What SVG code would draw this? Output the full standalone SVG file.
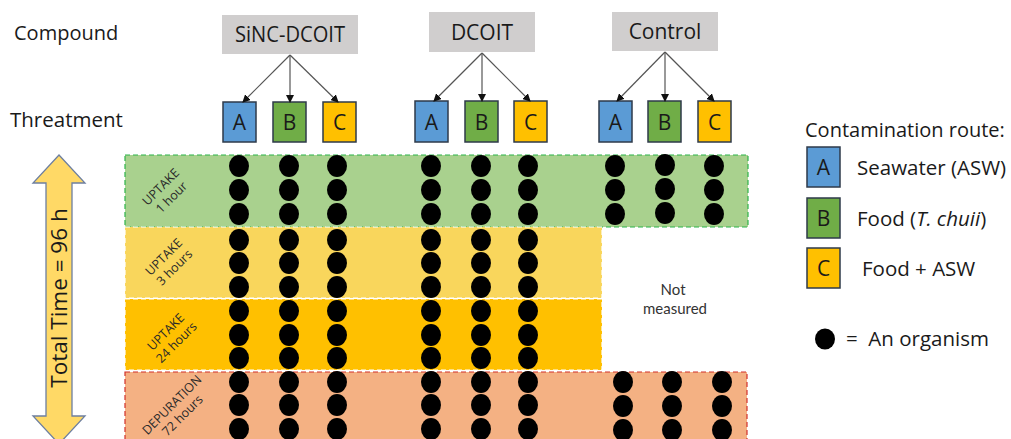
<svg xmlns="http://www.w3.org/2000/svg" width="1011" height="439" viewBox="0 0 1011 439">
  <style>
    .lbl { font-family: "Open Sans", "Liberation Sans", sans-serif; fill: #1a1a1a; }
    .cmp rect { fill: #D0CECE; }
    .cmp text { font-family: "Open Sans", "Liberation Sans", sans-serif; font-size: 21px; fill: #1a1a1a; text-anchor: middle; }
    .sq { stroke: #2E3A4A; stroke-width: 1.5; }
    .sq-a { fill: #5B9BD5; }
    .sq-b { fill: #70AD47; }
    .sq-c { fill: #FFC000; }
    .sqt { font-family: "Open Sans", "Liberation Sans", sans-serif; font-size: 21px; fill: #1a1a1a; text-anchor: middle; }
    .band-lbl { font-family: "Open Sans", "Liberation Sans", sans-serif; font-size: 12.5px; fill: #2a2a2a; text-anchor: middle; }
    .conn line { stroke: #555; stroke-width: 1.2; marker-end: url(#ah); }
    .dot { fill: #000; }
  </style>
  <defs>
    <marker id="ah" markerWidth="8" markerHeight="8" refX="7" refY="4" orient="auto" markerUnits="userSpaceOnUse">
      <path d="M0,0 L8,4 L0,8 Z" fill="#111"/>
    </marker>
    <ellipse id="d" rx="10" ry="11" class="dot"/>
  </defs>

  <rect width="1011" height="439" fill="#fff"/>

  <!-- row labels -->
  <text class="lbl" x="14" y="40" font-size="20">Compound</text>
  <text class="lbl" x="10" y="127" font-size="20.5">Threatment</text>

  <!-- time bands -->
  <g id="bands">
    <rect x="125" y="155" width="623" height="72" fill="#A9D18E" stroke="#2DB34A" stroke-width="1.2" stroke-dasharray="5,3"/>
    <rect x="125" y="227" width="477" height="71" fill="#F9D65C" stroke="#fff" stroke-width="1.2" stroke-dasharray="5,3"/>
    <rect x="125" y="299" width="477" height="71" fill="#FFC000" stroke="#fff" stroke-width="1.2" stroke-dasharray="5,3"/>
    <rect x="125" y="372" width="622" height="80" fill="#F4B183" stroke="#D0302A" stroke-width="1.2" stroke-dasharray="5,3"/>
  </g>

  <g id="band-labels">
    <g transform="translate(166,192) rotate(-45)">
      <text class="band-lbl" x="0" y="-3">UPTAKE</text>
      <text class="band-lbl" x="0" y="12">1 hour</text>
    </g>
    <g transform="translate(169,262) rotate(-45)">
      <text class="band-lbl" x="0" y="-3">UPTAKE</text>
      <text class="band-lbl" x="0" y="12">3 hours</text>
    </g>
    <g transform="translate(171,337) rotate(-45)">
      <text class="band-lbl" x="0" y="-3">UPTAKE</text>
      <text class="band-lbl" x="0" y="12">24 hours</text>
    </g>
    <g transform="translate(177,410) rotate(-45)">
      <text class="band-lbl" x="0" y="-3">DEPURATION</text>
      <text class="band-lbl" x="0" y="12">72 hours</text>
    </g>
  </g>

  <text id="not-measured" font-family="'Gill Sans', 'Lato', 'Open Sans', sans-serif" font-size="15" fill="#333" text-anchor="middle">
    <tspan x="675" y="295">Not</tspan>
    <tspan x="675" y="314">measured</tspan>
  </text>

  <!-- total time arrow -->
  <g id="time-arrow">
    <path d="M59,155 L85,183 L72,183 L72,416 L85,416 L59,444 L33,416 L46,416 L46,183 L33,183 Z" fill="#FFD966" stroke="#6D7FA0" stroke-width="1.3"/>
    <text class="lbl" transform="translate(67,298) rotate(-90)" text-anchor="middle" font-size="22.5">Total Time = 96 h</text>
  </g>

  <!-- compounds -->
  <g id="c-sinc" class="cmp">
    <rect x="222" y="15" width="136" height="39"/>
    <text x="290" y="42" textLength="110" lengthAdjust="spacingAndGlyphs">SiNC-DCOIT</text>
  </g>
  <g id="c-dcoit" class="cmp">
    <rect x="429" y="12" width="106" height="40"/>
    <text x="482" y="40">DCOIT</text>
  </g>
  <g id="c-control" class="cmp">
    <rect x="612" y="12" width="106" height="39"/>
    <text x="665" y="39">Control</text>
  </g>

  <!-- treatments -->
  <g id="t-sinc-a"><rect class="sq sq-a" x="223" y="102" width="33" height="40"/><text class="sqt" x="239.5" y="130">A</text></g>
  <g id="t-sinc-b"><rect class="sq sq-b" x="273" y="102" width="33" height="40"/><text class="sqt" x="289.5" y="130">B</text></g>
  <g id="t-sinc-c"><rect class="sq sq-c" x="323" y="102" width="33" height="40"/><text class="sqt" x="339.5" y="130">C</text></g>
  <g id="t-dcoit-a"><rect class="sq sq-a" x="415" y="101" width="33" height="41"/><text class="sqt" x="431.5" y="130">A</text></g>
  <g id="t-dcoit-b"><rect class="sq sq-b" x="465" y="101" width="33" height="41"/><text class="sqt" x="481.5" y="130">B</text></g>
  <g id="t-dcoit-c"><rect class="sq sq-c" x="514" y="101" width="33" height="41"/><text class="sqt" x="530.5" y="130">C</text></g>
  <g id="t-ctrl-a"><rect class="sq sq-a" x="599" y="101" width="33" height="41"/><text class="sqt" x="615.5" y="130">A</text></g>
  <g id="t-ctrl-b"><rect class="sq sq-b" x="648" y="101" width="33" height="41"/><text class="sqt" x="664.5" y="130">B</text></g>
  <g id="t-ctrl-c"><rect class="sq sq-c" x="698" y="101" width="33" height="41"/><text class="sqt" x="714.5" y="130">C</text></g>

  <!-- connectors -->
  <g id="connectors" class="conn">
    <line x1="290" y1="55" x2="243" y2="102"/>
    <line x1="290" y1="55" x2="290" y2="102"/>
    <line x1="290" y1="55" x2="338" y2="102"/>
    <line x1="482" y1="53" x2="434" y2="101"/>
    <line x1="482" y1="53" x2="482" y2="101"/>
    <line x1="482" y1="53" x2="530" y2="101"/>
    <line x1="665" y1="52" x2="617" y2="101"/>
    <line x1="665" y1="52" x2="665" y2="101"/>
    <line x1="665" y1="52" x2="714" y2="101"/>
  </g>

  <!-- organisms -->
  <g id="organisms">
    <!-- full-duration columns -->
    <g id="col-sinc-a" transform="translate(239,0)">
      <use href="#d" y="166"/><use href="#d" y="190"/><use href="#d" y="214"/>
      <use href="#d" y="240"/><use href="#d" y="263"/><use href="#d" y="287"/>
      <use href="#d" y="311"/><use href="#d" y="335"/><use href="#d" y="358"/>
      <use href="#d" y="382"/><use href="#d" y="405"/><use href="#d" y="429"/>
    </g>
    <g id="col-sinc-b" transform="translate(289,0)">
      <use href="#d" y="166"/><use href="#d" y="190"/><use href="#d" y="214"/>
      <use href="#d" y="240"/><use href="#d" y="263"/><use href="#d" y="287"/>
      <use href="#d" y="311"/><use href="#d" y="335"/><use href="#d" y="358"/>
      <use href="#d" y="382"/><use href="#d" y="405"/><use href="#d" y="429"/>
    </g>
    <g id="col-sinc-c" transform="translate(337,0)">
      <use href="#d" y="166"/><use href="#d" y="190"/><use href="#d" y="214"/>
      <use href="#d" y="240"/><use href="#d" y="263"/><use href="#d" y="287"/>
      <use href="#d" y="311"/><use href="#d" y="335"/><use href="#d" y="358"/>
      <use href="#d" y="382"/><use href="#d" y="405"/><use href="#d" y="429"/>
    </g>
    <g id="col-dcoit-a" transform="translate(431,0)">
      <use href="#d" y="166"/><use href="#d" y="190"/><use href="#d" y="214"/>
      <use href="#d" y="240"/><use href="#d" y="263"/><use href="#d" y="287"/>
      <use href="#d" y="311"/><use href="#d" y="335"/><use href="#d" y="358"/>
      <use href="#d" y="382"/><use href="#d" y="405"/><use href="#d" y="429"/>
    </g>
    <g id="col-dcoit-b" transform="translate(481,0)">
      <use href="#d" y="166"/><use href="#d" y="190"/><use href="#d" y="214"/>
      <use href="#d" y="240"/><use href="#d" y="263"/><use href="#d" y="287"/>
      <use href="#d" y="311"/><use href="#d" y="335"/><use href="#d" y="358"/>
      <use href="#d" y="382"/><use href="#d" y="405"/><use href="#d" y="429"/>
    </g>
    <g id="col-dcoit-c" transform="translate(528,0)">
      <use href="#d" y="166"/><use href="#d" y="190"/><use href="#d" y="214"/>
      <use href="#d" y="240"/><use href="#d" y="263"/><use href="#d" y="287"/>
      <use href="#d" y="311"/><use href="#d" y="335"/><use href="#d" y="358"/>
      <use href="#d" y="382"/><use href="#d" y="405"/><use href="#d" y="429"/>
    </g>
    <!-- control: uptake 1 h -->
    <g id="ctrl-uptake">
      <use href="#d" x="615" y="166"/><use href="#d" x="615" y="190"/><use href="#d" x="615" y="214"/>
      <use href="#d" x="665" y="165"/><use href="#d" x="665" y="189"/><use href="#d" x="665" y="213"/>
      <use href="#d" x="714" y="166"/><use href="#d" x="714" y="190"/><use href="#d" x="714" y="214"/>
    </g>
    <!-- control: depuration -->
    <g id="ctrl-depuration">
      <use href="#d" x="623" y="382"/><use href="#d" x="623" y="406"/><use href="#d" x="623" y="430"/>
      <use href="#d" x="672" y="382"/><use href="#d" x="672" y="406"/><use href="#d" x="672" y="430"/>
      <use href="#d" x="722" y="382"/><use href="#d" x="722" y="406"/><use href="#d" x="722" y="430"/>
    </g>
  </g>

  <!-- legend -->
  <g id="legend">
    <text class="lbl" x="805" y="137" font-size="20">Contamination route:</text>
    <g id="leg-a"><rect class="sq sq-a" x="807" y="147" width="33" height="40"/><text class="sqt" x="823.5" y="175">A</text>
      <text class="lbl" x="857" y="175" font-size="20.5">Seawater (ASW)</text></g>
    <g id="leg-b"><rect class="sq sq-b" x="807" y="198" width="33" height="40"/><text class="sqt" x="823.5" y="226">B</text>
      <text class="lbl" x="857" y="226" font-size="20.5">Food (<tspan font-style="italic">T. chuii</tspan>)</text></g>
    <g id="leg-c"><rect class="sq sq-c" x="807" y="248" width="33" height="40"/><text class="sqt" x="823.5" y="276">C</text>
      <text class="lbl" x="862" y="276" font-size="20.5">Food + ASW</text></g>
    <g id="leg-dot"><ellipse cx="825" cy="339" rx="10" ry="10.5" class="dot"/>
      <text class="lbl" x="846" y="346" font-size="20.5" xml:space="preserve">=  An organism</text></g>
  </g>
</svg>
